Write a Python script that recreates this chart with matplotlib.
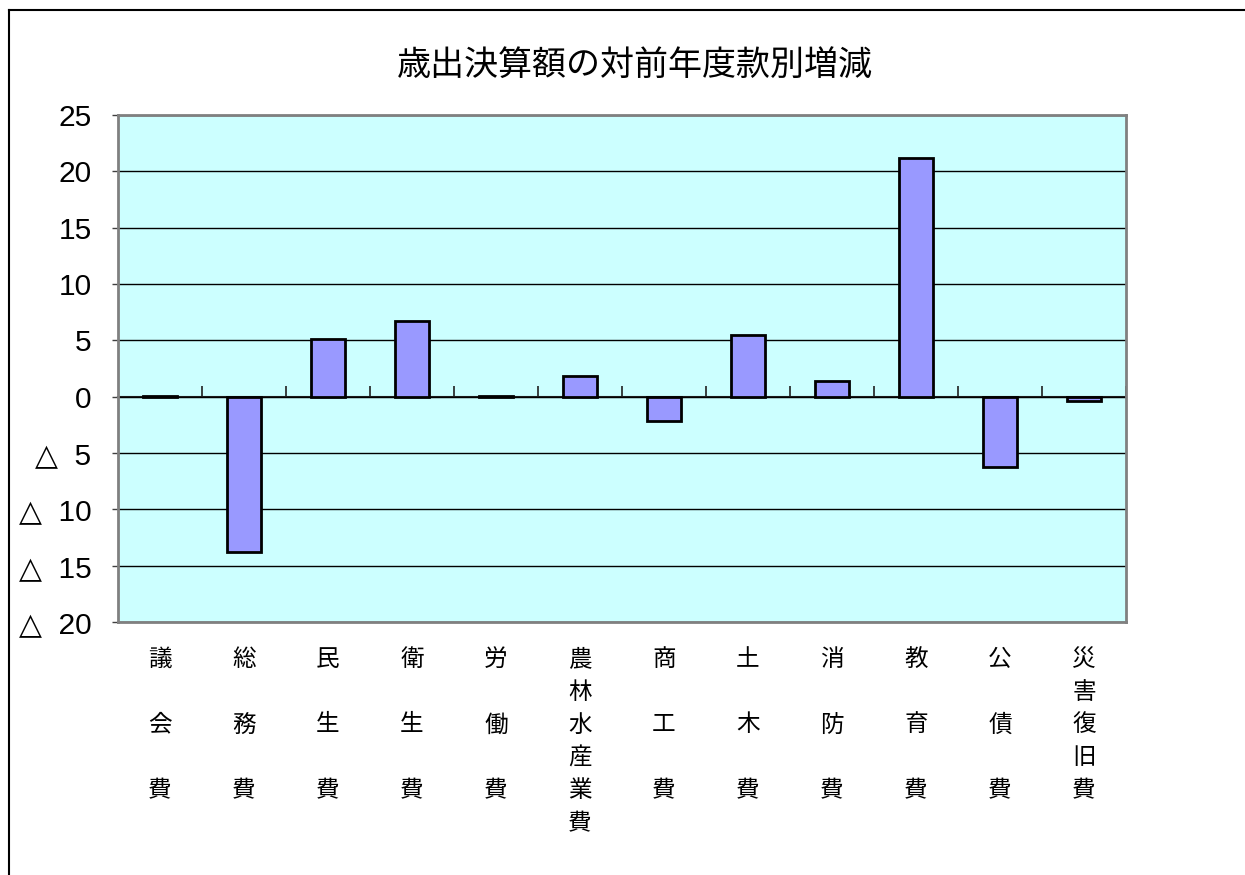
import matplotlib
matplotlib.use("Agg")
import matplotlib.pyplot as plt
from matplotlib.lines import Line2D

plt.rcParams['font.family'] = ['Noto Sans CJK JP', 'DejaVu Sans']

title = "歳出決算額の対前年度款別増減"
categories = ["議\n\n会\n\n費", "総\n\n務\n\n費", "民\n\n生\n\n費", "衛\n\n生\n\n費",
              "労\n\n働\n\n費", "農\n林\n水\n産\n業\n費", "商\n\n工\n\n費", "土\n\n木\n\n費",
              "消\n\n防\n\n費", "教\n\n育\n\n費", "公\n\n債\n\n費", "災\n害\n復\n旧\n費"]
values = [0.1, -13.8, 5.1, 6.7, 0.1, 1.8, -2.2, 5.5, 1.4, 21.2, -6.2, -0.4]
y_ticks = [-20, -15, -10, -5, 0, 5, 10, 15, 20, 25]
y_tick_labels = ["△  20", "△  15", "△  10", "△  5", "0", "5", "10", "15", "20", "25"]

fig = plt.figure(figsize=(12.45, 8.75), dpi=100)
ax = fig.add_axes([118/1245, 1-622/875, (1126-118)/1245, (622-115)/875])
ax.set_facecolor("#CCFFFF")

x = list(range(len(categories)))
ax.bar(x, values, width=0.41, color="#9999FF", edgecolor="black", linewidth=2, zorder=3)

ymin, ymax = -20, 25
ax.set_ylim(ymin, ymax)
ax.set_xlim(-0.5, len(categories) - 0.5)
ax.set_yticks(y_ticks)
ax.set_yticklabels(y_tick_labels, family=['Liberation Sans', 'DejaVu Sans'], fontsize=21.5)
ax.tick_params(axis='y', length=4, width=1, color="#404040", pad=15)
ax.yaxis.grid(True, color="black", linewidth=1, zorder=1)
ax.set_axisbelow(True)

ax.set_xticks(x)
ax.set_xticklabels(categories, fontsize=17, linespacing=1.55, va='top')
ax.tick_params(axis='x', length=0, pad=18.5)

for s in ax.spines.values():
    s.set_color("#808080")
    s.set_linewidth(2)

# category axis crossing at zero with boundary tick marks
zero_frac = (0 - ymin) / (ymax - ymin)
sec = ax.secondary_xaxis(zero_frac)
sec.set_xticks([i + 0.5 for i in range(len(categories))])
sec.set_xticklabels([])
sec.tick_params(axis='x', direction='in', length=8, width=1.2, color="#202020")
sec.spines['bottom'].set_color("#202020")
sec.spines['bottom'].set_linewidth(1.5)

fig.text(0.51, 1 - 65/875, title, ha='center', va='center', fontsize=24.5)

# chart frame (top and left edges)
fig.add_artist(Line2D([9/1245, 1], [1 - 10/875, 1 - 10/875], color="black", linewidth=1.5, transform=fig.transFigure))
fig.add_artist(Line2D([9/1245, 9/1245], [0, 1 - 10/875], color="black", linewidth=1.5, transform=fig.transFigure))

fig.savefig("out.png", dpi=100)
